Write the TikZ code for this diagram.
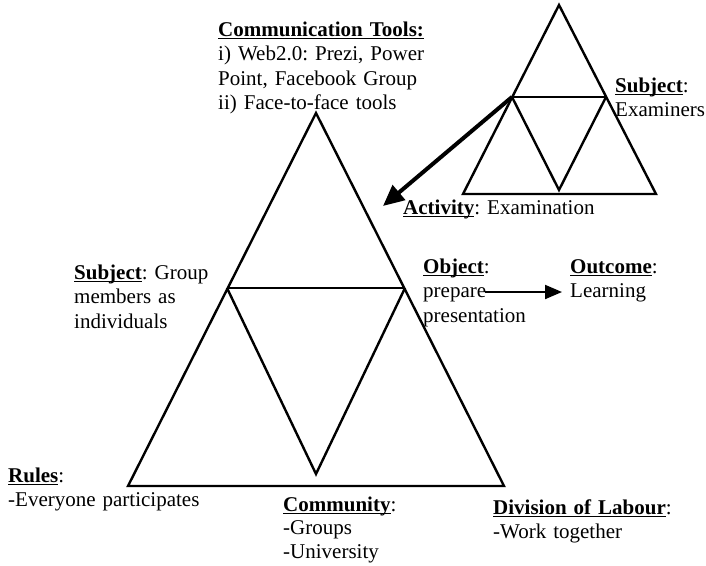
\documentclass[tikz,border=0pt]{standalone}
\usepackage{fontspec}
\setmainfont{Liberation Serif}
\usetikzlibrary{arrows.meta}
% bold, underlined heading word; the rule ignores descenders
\newcommand{\lbl}[1]{\underline{\raisebox{0pt}[\height][0.5pt]{\textbf{#1}}}}
\frenchspacing

\begin{document}
\begin{tikzpicture}[x=1pt,y=-1pt,
  tri/.style={line width=2.4pt, line join=miter},
  txt/.style={anchor=base west, inner sep=0pt, text width=240pt, align=left,
              font=\fontsize{21}{24.5}\selectfont},
  bigarrow/.style={line width=4pt, -{Triangle[length=21pt,width=19pt]}},
  smallarrow/.style={line width=2pt, -{Triangle[length=17pt,width=14pt]}}]
  \useasboundingbox (0,0) rectangle (706,565);

  % large activity triangle
  \coordinate (bA)  at (316,113);
  \coordinate (bL)  at (128,486);
  \coordinate (bR)  at (504,486);
  \coordinate (bML) at (227,288);
  \coordinate (bMR) at (405,288);
  \coordinate (bV)  at (316,474);
  \draw[tri] (bA) -- (bL) -- (bR) -- cycle;
  \draw[tri] (bML) -- (bMR);
  \draw[tri] (bML) -- (bV) -- (bMR);

  % small activity triangle
  \coordinate (sA)  at (559,5);
  \coordinate (sL)  at (463,194);
  \coordinate (sR)  at (656,194);
  \coordinate (sML) at (512,97);
  \coordinate (sMR) at (606,97);
  \coordinate (sV)  at (559,190);
  \draw[tri] (sA) -- (sL) -- (sR) -- cycle;
  \draw[tri] (sML) -- (sMR);
  \draw[tri] (sML) -- (sV) -- (sMR);

  % labels
  \node[txt] (tools) at (218,36) {\lbl{Communication Tools:}\\
    \makebox[209pt][s]{i) Web2.0: Prezi, Power}\\
    Point, Facebook Group\\
    ii) Face-to-face tools};
  \node[txt] (subjB) at (615,92) {\lbl{Subject}:\\Examiners};
  \node[txt] (actB) at (403,214) {\lbl{Activity}: Examination};
  \node[txt] (subjA) at (74,279) {\lbl{Subject}: Group\\members as\\individuals};
  \node[txt] (objA) at (423,273) {\lbl{Object}:\\prepare\\presentation};
  \node[txt] (outA) at (570,273) {\lbl{Outcome}:\\Learning};
  \node[txt] (rules) at (8,482) {\lbl{Rules}:\\-Everyone participates};
  \node[txt, font=\fontsize{21}{23.5}\selectfont] (commA) at (283,511)
    {\lbl{Community}:\\-Groups\\-University};
  \node[txt] (divA) at (493,514) {\lbl{Division of Labour}:\\-Work together};

  % connectors
  \coordinate (actTip) at (383,206);
  \draw[bigarrow] (sML) -- (actTip);
  \coordinate (objEnd) at (485,292);
  \coordinate (outTip) at (562,292);
  \draw[smallarrow] (objEnd) -- (outTip);
\end{tikzpicture}
\end{document}
